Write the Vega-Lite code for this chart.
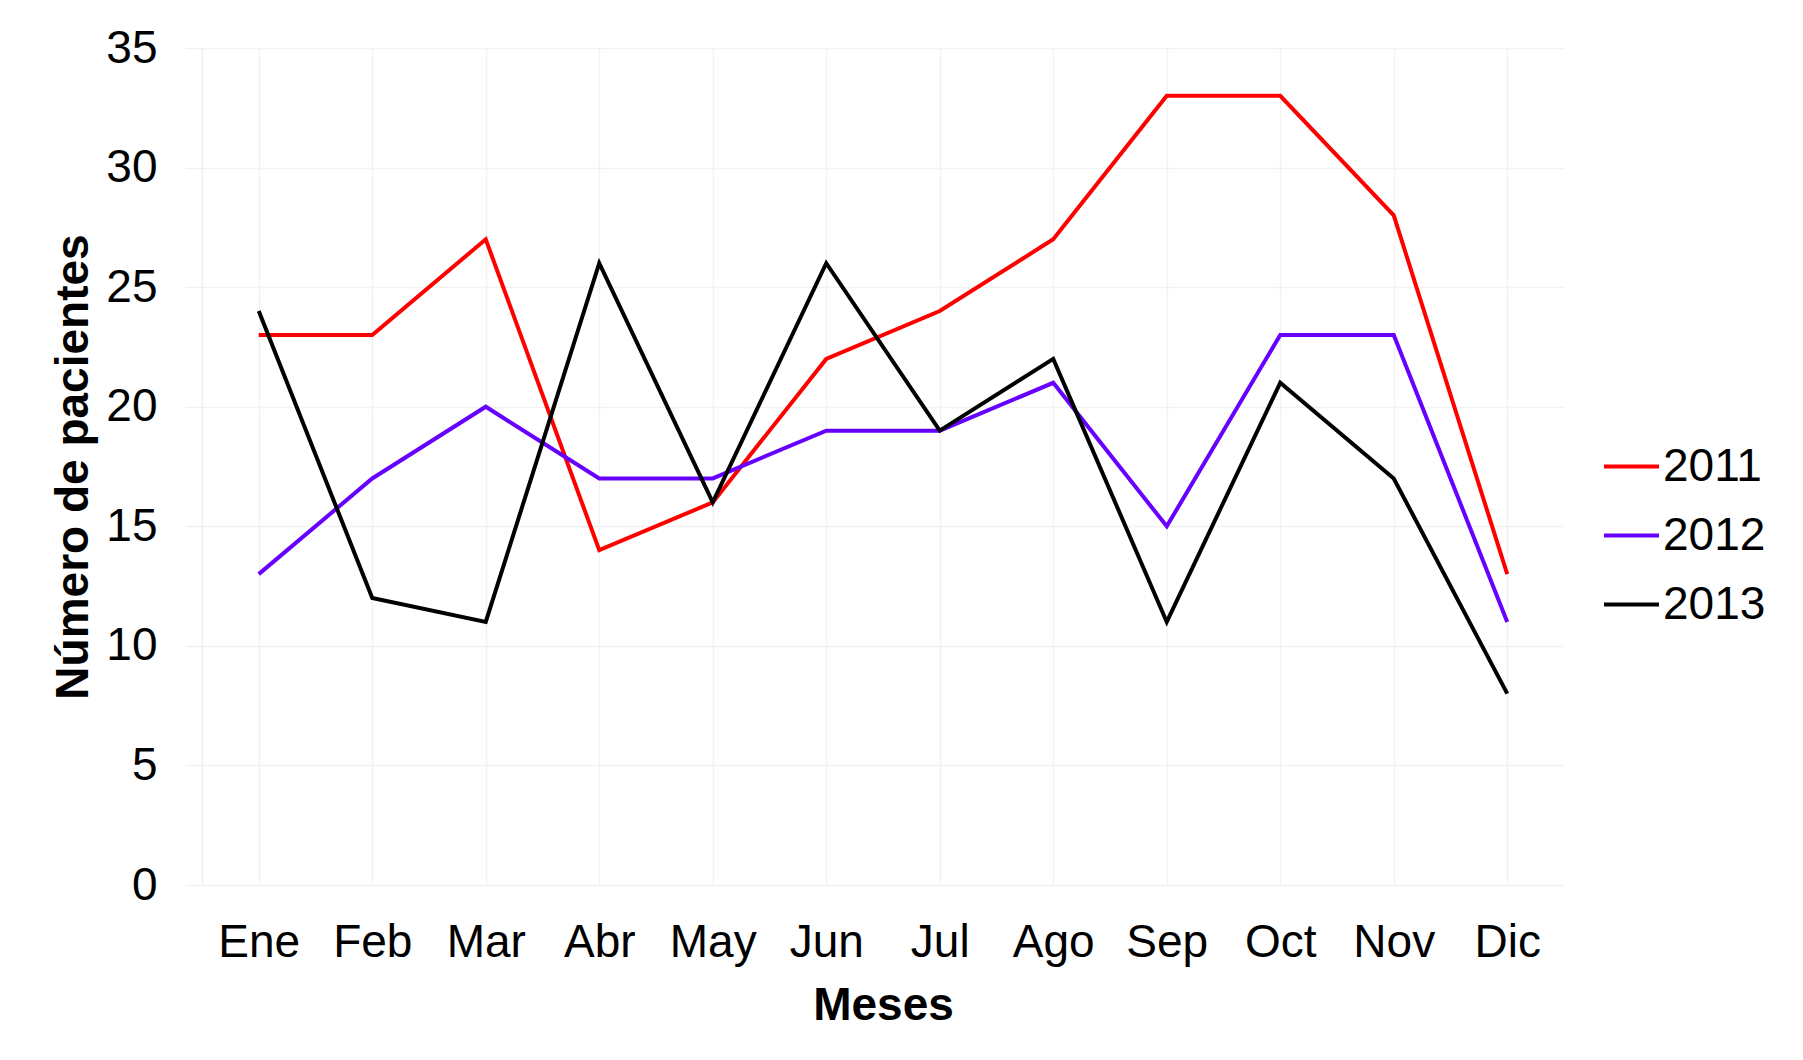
{
  "$schema": "https://vega.github.io/schema/vega-lite/v6.json",
  "width": 1362,
  "height": 837,
  "autosize": "none",
  "padding": {"left": 202, "top": 48, "right": 239, "bottom": 175},
  "background": "white",
  "config": {
    "font": "Liberation Sans",
    "view": {"stroke": null}
  },
  "data": {
    "values": [
      {"mes": "Ene", "anio": "2011", "pacientes": 23},
      {"mes": "Feb", "anio": "2011", "pacientes": 23},
      {"mes": "Mar", "anio": "2011", "pacientes": 27},
      {"mes": "Abr", "anio": "2011", "pacientes": 14},
      {"mes": "May", "anio": "2011", "pacientes": 16},
      {"mes": "Jun", "anio": "2011", "pacientes": 22},
      {"mes": "Jul", "anio": "2011", "pacientes": 24},
      {"mes": "Ago", "anio": "2011", "pacientes": 27},
      {"mes": "Sep", "anio": "2011", "pacientes": 33},
      {"mes": "Oct", "anio": "2011", "pacientes": 33},
      {"mes": "Nov", "anio": "2011", "pacientes": 28},
      {"mes": "Dic", "anio": "2011", "pacientes": 13},
      {"mes": "Ene", "anio": "2012", "pacientes": 13},
      {"mes": "Feb", "anio": "2012", "pacientes": 17},
      {"mes": "Mar", "anio": "2012", "pacientes": 20},
      {"mes": "Abr", "anio": "2012", "pacientes": 17},
      {"mes": "May", "anio": "2012", "pacientes": 17},
      {"mes": "Jun", "anio": "2012", "pacientes": 19},
      {"mes": "Jul", "anio": "2012", "pacientes": 19},
      {"mes": "Ago", "anio": "2012", "pacientes": 21},
      {"mes": "Sep", "anio": "2012", "pacientes": 15},
      {"mes": "Oct", "anio": "2012", "pacientes": 23},
      {"mes": "Nov", "anio": "2012", "pacientes": 23},
      {"mes": "Dic", "anio": "2012", "pacientes": 11},
      {"mes": "Ene", "anio": "2013", "pacientes": 24},
      {"mes": "Feb", "anio": "2013", "pacientes": 12},
      {"mes": "Mar", "anio": "2013", "pacientes": 11},
      {"mes": "Abr", "anio": "2013", "pacientes": 26},
      {"mes": "May", "anio": "2013", "pacientes": 16},
      {"mes": "Jun", "anio": "2013", "pacientes": 26},
      {"mes": "Jul", "anio": "2013", "pacientes": 19},
      {"mes": "Ago", "anio": "2013", "pacientes": 22},
      {"mes": "Sep", "anio": "2013", "pacientes": 11},
      {"mes": "Oct", "anio": "2013", "pacientes": 21},
      {"mes": "Nov", "anio": "2013", "pacientes": 17},
      {"mes": "Dic", "anio": "2013", "pacientes": 8}
    ]
  },
  "mark": {"type": "line", "strokeWidth": 4, "strokeJoin": "miter", "strokeCap": "butt"},
  "encoding": {
    "x": {
      "field": "mes",
      "type": "ordinal",
      "sort": ["Ene", "Feb", "Mar", "Abr", "May", "Jun", "Jul", "Ago", "Sep", "Oct", "Nov", "Dic"],
      "scale": {"type": "point", "padding": 0.5},
      "axis": {
        "title": "Meses",
        "titleFontSize": 46,
        "titleFontWeight": "bold",
        "titleColor": "black",
        "titlePadding": 18,
        "labelFontSize": 46,
        "labelColor": "black",
        "labelAngle": 0,
        "labelPadding": 35,
        "ticks": false,
        "tickSize": 0,
        "domain": false,
        "grid": true,
        "gridColor": "#f2f2f2",
        "gridWidth": 1.5
      }
    },
    "y": {
      "field": "pacientes",
      "type": "quantitative",
      "scale": {"domain": [0, 35], "nice": false},
      "axis": {
        "title": "Número de pacientes",
        "titleFontSize": 46,
        "titleFontWeight": "bold",
        "titleColor": "black",
        "titlePadding": 8,
        "labelFontSize": 46,
        "labelColor": "black",
        "labelPadding": 28,
        "values": [0, 5, 10, 15, 20, 25, 30, 35],
        "ticks": true,
        "tickSize": 17,
        "tickColor": "#f0f0f0",
        "tickWidth": 1.5,
        "domain": true,
        "domainColor": "#f0f0f0",
        "domainWidth": 1.5,
        "grid": true,
        "gridColor": "#f2f2f2",
        "gridWidth": 1.5
      }
    },
    "color": {
      "field": "anio",
      "type": "nominal",
      "scale": {"domain": ["2011", "2012", "2013"], "range": ["#ff0000", "#6600ff", "#000000"]},
      "legend": {
        "title": null,
        "orient": "none",
        "legendX": 1400,
        "legendY": 389,
        "symbolType": "stroke",
        "symbolSize": 3025,
        "symbolStrokeWidth": 4,
        "labelFontSize": 46,
        "labelColor": "black",
        "labelOffset": 2,
        "rowPadding": 16
      }
    }
  }
}
